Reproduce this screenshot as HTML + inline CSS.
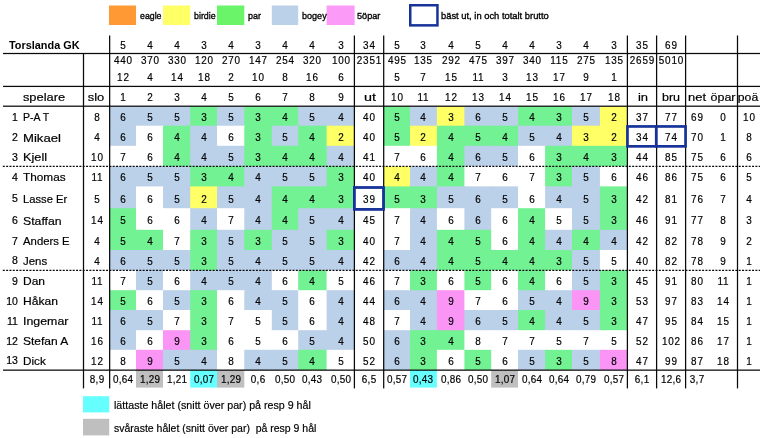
<!DOCTYPE html>
<html lang="sv"><head><meta charset="utf-8"><title>Torslanda GK</title><style>
html,body{margin:0;padding:0;background:#fff}
body{width:764px;height:438px;position:relative;overflow:hidden;font-family:"Liberation Sans",sans-serif;color:#000}
.g{position:absolute;left:0;top:0}
.d,.t,.n,.l,.m{position:absolute;white-space:nowrap;line-height:1;-webkit-text-stroke:0.2px #000}
.d{font-size:10.9px;letter-spacing:.9px;text-indent:.9px;transform:scaleX(.91)}
.f{letter-spacing:.3px;text-indent:.3px}
.t{font-size:11.6px}
.b{font-weight:bold;-webkit-text-stroke:0}
.n{font-size:10.5px}
.l{font-size:9.8px;-webkit-text-stroke:0.35px #000}
.m{font-size:11.6px}
</style></head><body>
<svg class="g" width="764" height="438" viewBox="0 0 764 438">
<rect x="109.40" y="106.40" width="27.60" height="20.30" fill="#BBD0E9"/>
<rect x="136.00" y="106.40" width="28.00" height="20.30" fill="#BBD0E9"/>
<rect x="163.00" y="106.40" width="28.20" height="20.30" fill="#BBD0E9"/>
<rect x="190.20" y="106.40" width="27.80" height="20.30" fill="#72F292"/>
<rect x="217.00" y="106.40" width="28.30" height="20.30" fill="#BBD0E9"/>
<rect x="244.30" y="106.40" width="28.50" height="20.30" fill="#72F292"/>
<rect x="271.80" y="106.40" width="27.40" height="20.30" fill="#72F292"/>
<rect x="298.20" y="106.40" width="29.40" height="20.30" fill="#BBD0E9"/>
<rect x="326.60" y="106.40" width="28.00" height="20.30" fill="#BBD0E9"/>
<rect x="383.00" y="106.40" width="28.00" height="20.30" fill="#72F292"/>
<rect x="410.00" y="106.40" width="27.90" height="20.30" fill="#BBD0E9"/>
<rect x="436.90" y="106.40" width="28.50" height="20.30" fill="#FFFF66"/>
<rect x="464.40" y="106.40" width="27.80" height="20.30" fill="#BBD0E9"/>
<rect x="491.20" y="106.40" width="27.80" height="20.30" fill="#BBD0E9"/>
<rect x="518.00" y="106.40" width="28.10" height="20.30" fill="#72F292"/>
<rect x="545.10" y="106.40" width="27.90" height="20.30" fill="#72F292"/>
<rect x="572.00" y="106.40" width="28.90" height="20.30" fill="#BBD0E9"/>
<rect x="599.90" y="106.40" width="27.70" height="20.30" fill="#FFFF66"/>
<rect x="109.40" y="125.70" width="27.60" height="21.10" fill="#BBD0E9"/>
<rect x="136.00" y="125.70" width="28.00" height="21.10" fill="#fff"/>
<rect x="163.00" y="125.70" width="28.20" height="21.10" fill="#72F292"/>
<rect x="190.20" y="125.70" width="27.80" height="21.10" fill="#BBD0E9"/>
<rect x="217.00" y="125.70" width="28.30" height="21.10" fill="#fff"/>
<rect x="244.30" y="125.70" width="28.50" height="21.10" fill="#72F292"/>
<rect x="271.80" y="125.70" width="27.40" height="21.10" fill="#BBD0E9"/>
<rect x="298.20" y="125.70" width="29.40" height="21.10" fill="#72F292"/>
<rect x="326.60" y="125.70" width="28.00" height="21.10" fill="#FFFF66"/>
<rect x="383.00" y="125.70" width="28.00" height="21.10" fill="#72F292"/>
<rect x="410.00" y="125.70" width="27.90" height="21.10" fill="#FFFF66"/>
<rect x="436.90" y="125.70" width="28.50" height="21.10" fill="#72F292"/>
<rect x="464.40" y="125.70" width="27.80" height="21.10" fill="#72F292"/>
<rect x="491.20" y="125.70" width="27.80" height="21.10" fill="#72F292"/>
<rect x="518.00" y="125.70" width="28.10" height="21.10" fill="#BBD0E9"/>
<rect x="545.10" y="125.70" width="27.90" height="21.10" fill="#BBD0E9"/>
<rect x="572.00" y="125.70" width="28.90" height="21.10" fill="#FFFF66"/>
<rect x="599.90" y="125.70" width="27.70" height="21.10" fill="#FFFF66"/>
<rect x="109.40" y="145.80" width="27.60" height="21.40" fill="#fff"/>
<rect x="136.00" y="145.80" width="28.00" height="21.40" fill="#fff"/>
<rect x="163.00" y="145.80" width="28.20" height="21.40" fill="#72F292"/>
<rect x="190.20" y="145.80" width="27.80" height="21.40" fill="#BBD0E9"/>
<rect x="217.00" y="145.80" width="28.30" height="21.40" fill="#BBD0E9"/>
<rect x="244.30" y="145.80" width="28.50" height="21.40" fill="#72F292"/>
<rect x="271.80" y="145.80" width="27.40" height="21.40" fill="#72F292"/>
<rect x="298.20" y="145.80" width="29.40" height="21.40" fill="#72F292"/>
<rect x="326.60" y="145.80" width="28.00" height="21.40" fill="#BBD0E9"/>
<rect x="383.00" y="145.80" width="28.00" height="21.40" fill="#fff"/>
<rect x="410.00" y="145.80" width="27.90" height="21.40" fill="#fff"/>
<rect x="436.90" y="145.80" width="28.50" height="21.40" fill="#72F292"/>
<rect x="464.40" y="145.80" width="27.80" height="21.40" fill="#BBD0E9"/>
<rect x="491.20" y="145.80" width="27.80" height="21.40" fill="#BBD0E9"/>
<rect x="518.00" y="145.80" width="28.10" height="21.40" fill="#fff"/>
<rect x="545.10" y="145.80" width="27.90" height="21.40" fill="#72F292"/>
<rect x="572.00" y="145.80" width="28.90" height="21.40" fill="#72F292"/>
<rect x="599.90" y="145.80" width="27.70" height="21.40" fill="#72F292"/>
<rect x="109.40" y="166.20" width="27.60" height="21.20" fill="#BBD0E9"/>
<rect x="136.00" y="166.20" width="28.00" height="21.20" fill="#BBD0E9"/>
<rect x="163.00" y="166.20" width="28.20" height="21.20" fill="#BBD0E9"/>
<rect x="190.20" y="166.20" width="27.80" height="21.20" fill="#72F292"/>
<rect x="217.00" y="166.20" width="28.30" height="21.20" fill="#72F292"/>
<rect x="244.30" y="166.20" width="28.50" height="21.20" fill="#BBD0E9"/>
<rect x="271.80" y="166.20" width="27.40" height="21.20" fill="#BBD0E9"/>
<rect x="298.20" y="166.20" width="29.40" height="21.20" fill="#BBD0E9"/>
<rect x="326.60" y="166.20" width="28.00" height="21.20" fill="#72F292"/>
<rect x="383.00" y="166.20" width="28.00" height="21.20" fill="#FFFF66"/>
<rect x="410.00" y="166.20" width="27.90" height="21.20" fill="#BBD0E9"/>
<rect x="436.90" y="166.20" width="28.50" height="21.20" fill="#72F292"/>
<rect x="464.40" y="166.20" width="27.80" height="21.20" fill="#fff"/>
<rect x="491.20" y="166.20" width="27.80" height="21.20" fill="#fff"/>
<rect x="518.00" y="166.20" width="28.10" height="21.20" fill="#fff"/>
<rect x="545.10" y="166.20" width="27.90" height="21.20" fill="#72F292"/>
<rect x="572.00" y="166.20" width="28.90" height="21.20" fill="#BBD0E9"/>
<rect x="599.90" y="166.20" width="27.70" height="21.20" fill="#fff"/>
<rect x="109.40" y="186.40" width="27.60" height="22.80" fill="#BBD0E9"/>
<rect x="136.00" y="186.40" width="28.00" height="22.80" fill="#fff"/>
<rect x="163.00" y="186.40" width="28.20" height="22.80" fill="#BBD0E9"/>
<rect x="190.20" y="186.40" width="27.80" height="22.80" fill="#FFFF66"/>
<rect x="217.00" y="186.40" width="28.30" height="22.80" fill="#BBD0E9"/>
<rect x="244.30" y="186.40" width="28.50" height="22.80" fill="#BBD0E9"/>
<rect x="271.80" y="186.40" width="27.40" height="22.80" fill="#72F292"/>
<rect x="298.20" y="186.40" width="29.40" height="22.80" fill="#72F292"/>
<rect x="326.60" y="186.40" width="28.00" height="22.80" fill="#72F292"/>
<rect x="383.00" y="186.40" width="28.00" height="22.80" fill="#72F292"/>
<rect x="410.00" y="186.40" width="27.90" height="22.80" fill="#72F292"/>
<rect x="436.90" y="186.40" width="28.50" height="22.80" fill="#BBD0E9"/>
<rect x="464.40" y="186.40" width="27.80" height="22.80" fill="#BBD0E9"/>
<rect x="491.20" y="186.40" width="27.80" height="22.80" fill="#BBD0E9"/>
<rect x="518.00" y="186.40" width="28.10" height="22.80" fill="#fff"/>
<rect x="545.10" y="186.40" width="27.90" height="22.80" fill="#BBD0E9"/>
<rect x="572.00" y="186.40" width="28.90" height="22.80" fill="#BBD0E9"/>
<rect x="599.90" y="186.40" width="27.70" height="22.80" fill="#72F292"/>
<rect x="109.40" y="208.20" width="27.60" height="22.60" fill="#72F292"/>
<rect x="136.00" y="208.20" width="28.00" height="22.60" fill="#fff"/>
<rect x="163.00" y="208.20" width="28.20" height="22.60" fill="#fff"/>
<rect x="190.20" y="208.20" width="27.80" height="22.60" fill="#BBD0E9"/>
<rect x="217.00" y="208.20" width="28.30" height="22.60" fill="#fff"/>
<rect x="244.30" y="208.20" width="28.50" height="22.60" fill="#BBD0E9"/>
<rect x="271.80" y="208.20" width="27.40" height="22.60" fill="#72F292"/>
<rect x="298.20" y="208.20" width="29.40" height="22.60" fill="#BBD0E9"/>
<rect x="326.60" y="208.20" width="28.00" height="22.60" fill="#BBD0E9"/>
<rect x="383.00" y="208.20" width="28.00" height="22.60" fill="#fff"/>
<rect x="410.00" y="208.20" width="27.90" height="22.60" fill="#BBD0E9"/>
<rect x="436.90" y="208.20" width="28.50" height="22.60" fill="#fff"/>
<rect x="464.40" y="208.20" width="27.80" height="22.60" fill="#BBD0E9"/>
<rect x="491.20" y="208.20" width="27.80" height="22.60" fill="#fff"/>
<rect x="518.00" y="208.20" width="28.10" height="22.60" fill="#72F292"/>
<rect x="545.10" y="208.20" width="27.90" height="22.60" fill="#fff"/>
<rect x="572.00" y="208.20" width="28.90" height="22.60" fill="#BBD0E9"/>
<rect x="599.90" y="208.20" width="27.70" height="22.60" fill="#72F292"/>
<rect x="109.40" y="229.80" width="27.60" height="21.20" fill="#72F292"/>
<rect x="136.00" y="229.80" width="28.00" height="21.20" fill="#72F292"/>
<rect x="163.00" y="229.80" width="28.20" height="21.20" fill="#fff"/>
<rect x="190.20" y="229.80" width="27.80" height="21.20" fill="#72F292"/>
<rect x="217.00" y="229.80" width="28.30" height="21.20" fill="#BBD0E9"/>
<rect x="244.30" y="229.80" width="28.50" height="21.20" fill="#72F292"/>
<rect x="271.80" y="229.80" width="27.40" height="21.20" fill="#BBD0E9"/>
<rect x="298.20" y="229.80" width="29.40" height="21.20" fill="#BBD0E9"/>
<rect x="326.60" y="229.80" width="28.00" height="21.20" fill="#72F292"/>
<rect x="383.00" y="229.80" width="28.00" height="21.20" fill="#fff"/>
<rect x="410.00" y="229.80" width="27.90" height="21.20" fill="#BBD0E9"/>
<rect x="436.90" y="229.80" width="28.50" height="21.20" fill="#72F292"/>
<rect x="464.40" y="229.80" width="27.80" height="21.20" fill="#72F292"/>
<rect x="491.20" y="229.80" width="27.80" height="21.20" fill="#fff"/>
<rect x="518.00" y="229.80" width="28.10" height="21.20" fill="#72F292"/>
<rect x="545.10" y="229.80" width="27.90" height="21.20" fill="#BBD0E9"/>
<rect x="572.00" y="229.80" width="28.90" height="21.20" fill="#72F292"/>
<rect x="599.90" y="229.80" width="27.70" height="21.20" fill="#BBD0E9"/>
<rect x="109.40" y="250.00" width="27.60" height="21.20" fill="#BBD0E9"/>
<rect x="136.00" y="250.00" width="28.00" height="21.20" fill="#BBD0E9"/>
<rect x="163.00" y="250.00" width="28.20" height="21.20" fill="#BBD0E9"/>
<rect x="190.20" y="250.00" width="27.80" height="21.20" fill="#72F292"/>
<rect x="217.00" y="250.00" width="28.30" height="21.20" fill="#BBD0E9"/>
<rect x="244.30" y="250.00" width="28.50" height="21.20" fill="#BBD0E9"/>
<rect x="271.80" y="250.00" width="27.40" height="21.20" fill="#BBD0E9"/>
<rect x="298.20" y="250.00" width="29.40" height="21.20" fill="#BBD0E9"/>
<rect x="326.60" y="250.00" width="28.00" height="21.20" fill="#BBD0E9"/>
<rect x="383.00" y="250.00" width="28.00" height="21.20" fill="#BBD0E9"/>
<rect x="410.00" y="250.00" width="27.90" height="21.20" fill="#BBD0E9"/>
<rect x="436.90" y="250.00" width="28.50" height="21.20" fill="#72F292"/>
<rect x="464.40" y="250.00" width="27.80" height="21.20" fill="#72F292"/>
<rect x="491.20" y="250.00" width="27.80" height="21.20" fill="#72F292"/>
<rect x="518.00" y="250.00" width="28.10" height="21.20" fill="#72F292"/>
<rect x="545.10" y="250.00" width="27.90" height="21.20" fill="#72F292"/>
<rect x="572.00" y="250.00" width="28.90" height="21.20" fill="#BBD0E9"/>
<rect x="599.90" y="250.00" width="27.70" height="21.20" fill="#fff"/>
<rect x="109.40" y="270.20" width="27.60" height="21.00" fill="#fff"/>
<rect x="136.00" y="270.20" width="28.00" height="21.00" fill="#BBD0E9"/>
<rect x="163.00" y="270.20" width="28.20" height="21.00" fill="#fff"/>
<rect x="190.20" y="270.20" width="27.80" height="21.00" fill="#BBD0E9"/>
<rect x="217.00" y="270.20" width="28.30" height="21.00" fill="#BBD0E9"/>
<rect x="244.30" y="270.20" width="28.50" height="21.00" fill="#BBD0E9"/>
<rect x="271.80" y="270.20" width="27.40" height="21.00" fill="#fff"/>
<rect x="298.20" y="270.20" width="29.40" height="21.00" fill="#72F292"/>
<rect x="326.60" y="270.20" width="28.00" height="21.00" fill="#fff"/>
<rect x="383.00" y="270.20" width="28.00" height="21.00" fill="#fff"/>
<rect x="410.00" y="270.20" width="27.90" height="21.00" fill="#72F292"/>
<rect x="436.90" y="270.20" width="28.50" height="21.00" fill="#fff"/>
<rect x="464.40" y="270.20" width="27.80" height="21.00" fill="#72F292"/>
<rect x="491.20" y="270.20" width="27.80" height="21.00" fill="#fff"/>
<rect x="518.00" y="270.20" width="28.10" height="21.00" fill="#72F292"/>
<rect x="545.10" y="270.20" width="27.90" height="21.00" fill="#fff"/>
<rect x="572.00" y="270.20" width="28.90" height="21.00" fill="#BBD0E9"/>
<rect x="599.90" y="270.20" width="27.70" height="21.00" fill="#72F292"/>
<rect x="109.40" y="290.20" width="27.60" height="20.80" fill="#72F292"/>
<rect x="136.00" y="290.20" width="28.00" height="20.80" fill="#fff"/>
<rect x="163.00" y="290.20" width="28.20" height="20.80" fill="#BBD0E9"/>
<rect x="190.20" y="290.20" width="27.80" height="20.80" fill="#72F292"/>
<rect x="217.00" y="290.20" width="28.30" height="20.80" fill="#fff"/>
<rect x="244.30" y="290.20" width="28.50" height="20.80" fill="#BBD0E9"/>
<rect x="271.80" y="290.20" width="27.40" height="20.80" fill="#BBD0E9"/>
<rect x="298.20" y="290.20" width="29.40" height="20.80" fill="#fff"/>
<rect x="326.60" y="290.20" width="28.00" height="20.80" fill="#BBD0E9"/>
<rect x="383.00" y="290.20" width="28.00" height="20.80" fill="#BBD0E9"/>
<rect x="410.00" y="290.20" width="27.90" height="20.80" fill="#BBD0E9"/>
<rect x="436.90" y="290.20" width="28.50" height="20.80" fill="#FB95F5"/>
<rect x="464.40" y="290.20" width="27.80" height="20.80" fill="#fff"/>
<rect x="491.20" y="290.20" width="27.80" height="20.80" fill="#fff"/>
<rect x="518.00" y="290.20" width="28.10" height="20.80" fill="#BBD0E9"/>
<rect x="545.10" y="290.20" width="27.90" height="20.80" fill="#BBD0E9"/>
<rect x="572.00" y="290.20" width="28.90" height="20.80" fill="#FB95F5"/>
<rect x="599.90" y="290.20" width="27.70" height="20.80" fill="#72F292"/>
<rect x="109.40" y="310.00" width="27.60" height="21.20" fill="#BBD0E9"/>
<rect x="136.00" y="310.00" width="28.00" height="21.20" fill="#BBD0E9"/>
<rect x="163.00" y="310.00" width="28.20" height="21.20" fill="#fff"/>
<rect x="190.20" y="310.00" width="27.80" height="21.20" fill="#72F292"/>
<rect x="217.00" y="310.00" width="28.30" height="21.20" fill="#fff"/>
<rect x="244.30" y="310.00" width="28.50" height="21.20" fill="#fff"/>
<rect x="271.80" y="310.00" width="27.40" height="21.20" fill="#BBD0E9"/>
<rect x="298.20" y="310.00" width="29.40" height="21.20" fill="#fff"/>
<rect x="326.60" y="310.00" width="28.00" height="21.20" fill="#BBD0E9"/>
<rect x="383.00" y="310.00" width="28.00" height="21.20" fill="#fff"/>
<rect x="410.00" y="310.00" width="27.90" height="21.20" fill="#BBD0E9"/>
<rect x="436.90" y="310.00" width="28.50" height="21.20" fill="#FB95F5"/>
<rect x="464.40" y="310.00" width="27.80" height="21.20" fill="#BBD0E9"/>
<rect x="491.20" y="310.00" width="27.80" height="21.20" fill="#BBD0E9"/>
<rect x="518.00" y="310.00" width="28.10" height="21.20" fill="#72F292"/>
<rect x="545.10" y="310.00" width="27.90" height="21.20" fill="#BBD0E9"/>
<rect x="572.00" y="310.00" width="28.90" height="21.20" fill="#BBD0E9"/>
<rect x="599.90" y="310.00" width="27.70" height="21.20" fill="#72F292"/>
<rect x="109.40" y="330.20" width="27.60" height="20.60" fill="#BBD0E9"/>
<rect x="136.00" y="330.20" width="28.00" height="20.60" fill="#fff"/>
<rect x="163.00" y="330.20" width="28.20" height="20.60" fill="#FB95F5"/>
<rect x="190.20" y="330.20" width="27.80" height="20.60" fill="#72F292"/>
<rect x="217.00" y="330.20" width="28.30" height="20.60" fill="#fff"/>
<rect x="244.30" y="330.20" width="28.50" height="20.60" fill="#fff"/>
<rect x="271.80" y="330.20" width="27.40" height="20.60" fill="#fff"/>
<rect x="298.20" y="330.20" width="29.40" height="20.60" fill="#BBD0E9"/>
<rect x="326.60" y="330.20" width="28.00" height="20.60" fill="#BBD0E9"/>
<rect x="383.00" y="330.20" width="28.00" height="20.60" fill="#BBD0E9"/>
<rect x="410.00" y="330.20" width="27.90" height="20.60" fill="#72F292"/>
<rect x="436.90" y="330.20" width="28.50" height="20.60" fill="#72F292"/>
<rect x="464.40" y="330.20" width="27.80" height="20.60" fill="#fff"/>
<rect x="491.20" y="330.20" width="27.80" height="20.60" fill="#fff"/>
<rect x="518.00" y="330.20" width="28.10" height="20.60" fill="#fff"/>
<rect x="545.10" y="330.20" width="27.90" height="20.60" fill="#fff"/>
<rect x="572.00" y="330.20" width="28.90" height="20.60" fill="#fff"/>
<rect x="599.90" y="330.20" width="27.70" height="20.60" fill="#fff"/>
<rect x="109.40" y="349.80" width="27.60" height="20.20" fill="#fff"/>
<rect x="136.00" y="349.80" width="28.00" height="20.20" fill="#FB95F5"/>
<rect x="163.00" y="349.80" width="28.20" height="20.20" fill="#BBD0E9"/>
<rect x="190.20" y="349.80" width="27.80" height="20.20" fill="#BBD0E9"/>
<rect x="217.00" y="349.80" width="28.30" height="20.20" fill="#fff"/>
<rect x="244.30" y="349.80" width="28.50" height="20.20" fill="#BBD0E9"/>
<rect x="271.80" y="349.80" width="27.40" height="20.20" fill="#BBD0E9"/>
<rect x="298.20" y="349.80" width="29.40" height="20.20" fill="#72F292"/>
<rect x="326.60" y="349.80" width="28.00" height="20.20" fill="#fff"/>
<rect x="383.00" y="349.80" width="28.00" height="20.20" fill="#BBD0E9"/>
<rect x="410.00" y="349.80" width="27.90" height="20.20" fill="#72F292"/>
<rect x="436.90" y="349.80" width="28.50" height="20.20" fill="#fff"/>
<rect x="464.40" y="349.80" width="27.80" height="20.20" fill="#72F292"/>
<rect x="491.20" y="349.80" width="27.80" height="20.20" fill="#fff"/>
<rect x="518.00" y="349.80" width="28.10" height="20.20" fill="#BBD0E9"/>
<rect x="545.10" y="349.80" width="27.90" height="20.20" fill="#72F292"/>
<rect x="572.00" y="349.80" width="28.90" height="20.20" fill="#BBD0E9"/>
<rect x="599.90" y="349.80" width="27.70" height="20.20" fill="#FB95F5"/>
<rect x="136.00" y="370.00" width="27.00" height="17.60" fill="#BFBFBF"/>
<rect x="190.20" y="370.00" width="26.80" height="17.60" fill="#66FFFF"/>
<rect x="217.00" y="370.00" width="27.30" height="17.60" fill="#BFBFBF"/>
<rect x="410.00" y="370.00" width="26.90" height="17.60" fill="#66FFFF"/>
<rect x="491.20" y="370.00" width="26.80" height="17.60" fill="#BFBFBF"/>
<rect x="109.00" y="5.50" width="27.00" height="19.50" fill="#FF9933"/>
<rect x="163.00" y="5.50" width="27.20" height="19.50" fill="#FFFF66"/>
<rect x="217.00" y="5.50" width="27.30" height="19.50" fill="#6AF46A"/>
<rect x="271.80" y="5.50" width="26.40" height="19.50" fill="#BBD0E9"/>
<rect x="326.60" y="5.50" width="28.00" height="19.50" fill="#FC9AF8"/>
<rect x="83.00" y="396.20" width="26.20" height="16.20" fill="#66FFFF"/>
<rect x="83.00" y="418.80" width="26.20" height="16.60" fill="#BFBFBF"/>
<rect x="3.00" y="52.88" width="757.00" height="1.25" fill="#0a0a0a"/>
<rect x="3.00" y="85.78" width="757.00" height="1.25" fill="#0a0a0a"/>
<rect x="3.00" y="105.58" width="757.00" height="1.25" fill="#0a0a0a"/>
<rect x="3.00" y="369.52" width="757.00" height="1.25" fill="#0a0a0a"/>
<line x1="2.80" y1="166.30" x2="760.00" y2="166.30" stroke="#0a0a0a" stroke-width="1.2" stroke-dasharray="2 1.33"/>
<line x1="2.80" y1="270.30" x2="760.00" y2="270.30" stroke="#0a0a0a" stroke-width="1.2" stroke-dasharray="2 1.33"/>
<rect x="82.88" y="53.50" width="1.25" height="334.90" fill="#0a0a0a"/>
<rect x="109.03" y="35.50" width="1.25" height="352.90" fill="#0a0a0a"/>
<rect x="353.77" y="35.50" width="1.25" height="352.90" fill="#0a0a0a"/>
<rect x="383.07" y="35.50" width="1.25" height="352.90" fill="#0a0a0a"/>
<rect x="626.77" y="35.50" width="1.25" height="352.90" fill="#0a0a0a"/>
<rect x="655.98" y="35.50" width="1.25" height="352.90" fill="#0a0a0a"/>
<rect x="684.98" y="35.50" width="1.25" height="352.90" fill="#0a0a0a"/>
<rect x="736.88" y="35.50" width="1.25" height="352.90" fill="#0a0a0a"/>
<rect x="409.00" y="4.00" width="29.70" height="22.60" fill="#17339A"/>
<rect x="411.50" y="6.50" width="24.70" height="17.60" fill="#fff"/>
<rect x="353.00" y="186.10" width="31.90" height="24.70" fill="#17339A"/>
<rect x="355.80" y="188.90" width="26.30" height="19.10" fill="#fff"/>
<rect x="626.10" y="125.10" width="60.80" height="22.60" fill="#17339A"/>
<rect x="628.80" y="127.80" width="55.40" height="17.20" fill="#fff"/>
<rect x="654.90" y="125.10" width="2.80" height="22.60" fill="#17339A"/>
</svg>
<div class="d" style="left:83.00px;width:80px;text-align:center;top:40.17px;">5</div>
<div class="d" style="left:83.00px;width:80px;text-align:center;top:55.17px;">440</div>
<div class="d" style="left:83.00px;width:80px;text-align:center;top:71.77px;">12</div>
<div class="d" style="left:83.00px;width:80px;text-align:center;top:91.97px;">1</div>
<div class="d" style="left:109.50px;width:80px;text-align:center;top:40.17px;">4</div>
<div class="d" style="left:109.50px;width:80px;text-align:center;top:55.17px;">370</div>
<div class="d" style="left:109.50px;width:80px;text-align:center;top:71.77px;">4</div>
<div class="d" style="left:109.50px;width:80px;text-align:center;top:91.97px;">2</div>
<div class="d" style="left:136.60px;width:80px;text-align:center;top:40.17px;">4</div>
<div class="d" style="left:136.60px;width:80px;text-align:center;top:55.17px;">330</div>
<div class="d" style="left:136.60px;width:80px;text-align:center;top:71.77px;">14</div>
<div class="d" style="left:136.60px;width:80px;text-align:center;top:91.97px;">3</div>
<div class="d" style="left:163.60px;width:80px;text-align:center;top:40.17px;">3</div>
<div class="d" style="left:163.60px;width:80px;text-align:center;top:55.17px;">120</div>
<div class="d" style="left:163.60px;width:80px;text-align:center;top:71.77px;">18</div>
<div class="d" style="left:163.60px;width:80px;text-align:center;top:91.97px;">4</div>
<div class="d" style="left:190.65px;width:80px;text-align:center;top:40.17px;">4</div>
<div class="d" style="left:190.65px;width:80px;text-align:center;top:55.17px;">270</div>
<div class="d" style="left:190.65px;width:80px;text-align:center;top:71.77px;">2</div>
<div class="d" style="left:190.65px;width:80px;text-align:center;top:91.97px;">5</div>
<div class="d" style="left:218.05px;width:80px;text-align:center;top:40.17px;">3</div>
<div class="d" style="left:218.05px;width:80px;text-align:center;top:55.17px;">147</div>
<div class="d" style="left:218.05px;width:80px;text-align:center;top:71.77px;">10</div>
<div class="d" style="left:218.05px;width:80px;text-align:center;top:91.97px;">6</div>
<div class="d" style="left:245.00px;width:80px;text-align:center;top:40.17px;">4</div>
<div class="d" style="left:245.00px;width:80px;text-align:center;top:55.17px;">254</div>
<div class="d" style="left:245.00px;width:80px;text-align:center;top:71.77px;">8</div>
<div class="d" style="left:245.00px;width:80px;text-align:center;top:91.97px;">7</div>
<div class="d" style="left:272.40px;width:80px;text-align:center;top:40.17px;">4</div>
<div class="d" style="left:272.40px;width:80px;text-align:center;top:55.17px;">320</div>
<div class="d" style="left:272.40px;width:80px;text-align:center;top:71.77px;">16</div>
<div class="d" style="left:272.40px;width:80px;text-align:center;top:91.97px;">8</div>
<div class="d" style="left:300.60px;width:80px;text-align:center;top:40.17px;">3</div>
<div class="d" style="left:300.60px;width:80px;text-align:center;top:55.17px;">100</div>
<div class="d" style="left:300.60px;width:80px;text-align:center;top:71.77px;">6</div>
<div class="d" style="left:300.60px;width:80px;text-align:center;top:91.97px;">9</div>
<div class="d" style="left:356.80px;width:80px;text-align:center;top:40.17px;">5</div>
<div class="d" style="left:356.80px;width:80px;text-align:center;top:55.17px;">495</div>
<div class="d" style="left:356.80px;width:80px;text-align:center;top:71.77px;">5</div>
<div class="d" style="left:356.80px;width:80px;text-align:center;top:91.97px;">10</div>
<div class="d" style="left:383.45px;width:80px;text-align:center;top:40.17px;">3</div>
<div class="d" style="left:383.45px;width:80px;text-align:center;top:55.17px;">135</div>
<div class="d" style="left:383.45px;width:80px;text-align:center;top:71.77px;">7</div>
<div class="d" style="left:383.45px;width:80px;text-align:center;top:91.97px;">11</div>
<div class="d" style="left:410.65px;width:80px;text-align:center;top:40.17px;">4</div>
<div class="d" style="left:410.65px;width:80px;text-align:center;top:55.17px;">292</div>
<div class="d" style="left:410.65px;width:80px;text-align:center;top:71.77px;">15</div>
<div class="d" style="left:410.65px;width:80px;text-align:center;top:91.97px;">12</div>
<div class="d" style="left:437.80px;width:80px;text-align:center;top:40.17px;">5</div>
<div class="d" style="left:437.80px;width:80px;text-align:center;top:55.17px;">475</div>
<div class="d" style="left:437.80px;width:80px;text-align:center;top:71.77px;">11</div>
<div class="d" style="left:437.80px;width:80px;text-align:center;top:91.97px;">13</div>
<div class="d" style="left:464.60px;width:80px;text-align:center;top:40.17px;">4</div>
<div class="d" style="left:464.60px;width:80px;text-align:center;top:55.17px;">397</div>
<div class="d" style="left:464.60px;width:80px;text-align:center;top:71.77px;">3</div>
<div class="d" style="left:464.60px;width:80px;text-align:center;top:91.97px;">14</div>
<div class="d" style="left:491.55px;width:80px;text-align:center;top:40.17px;">4</div>
<div class="d" style="left:491.55px;width:80px;text-align:center;top:55.17px;">340</div>
<div class="d" style="left:491.55px;width:80px;text-align:center;top:71.77px;">13</div>
<div class="d" style="left:491.55px;width:80px;text-align:center;top:91.97px;">15</div>
<div class="d" style="left:518.55px;width:80px;text-align:center;top:40.17px;">3</div>
<div class="d" style="left:518.55px;width:80px;text-align:center;top:55.17px;">115</div>
<div class="d" style="left:518.55px;width:80px;text-align:center;top:71.77px;">17</div>
<div class="d" style="left:518.55px;width:80px;text-align:center;top:91.97px;">16</div>
<div class="d" style="left:545.95px;width:80px;text-align:center;top:40.17px;">4</div>
<div class="d" style="left:545.95px;width:80px;text-align:center;top:55.17px;">275</div>
<div class="d" style="left:545.95px;width:80px;text-align:center;top:71.77px;">9</div>
<div class="d" style="left:545.95px;width:80px;text-align:center;top:91.97px;">17</div>
<div class="d" style="left:573.75px;width:80px;text-align:center;top:40.17px;">3</div>
<div class="d" style="left:573.75px;width:80px;text-align:center;top:55.17px;">135</div>
<div class="d" style="left:573.75px;width:80px;text-align:center;top:71.77px;">1</div>
<div class="d" style="left:573.75px;width:80px;text-align:center;top:91.97px;">18</div>
<div class="t b" style="left:9.00px;top:39.48px;transform:scaleX(0.939);transform-origin:left top;">Torslanda GK</div>
<div class="d" style="left:329.05px;width:80px;text-align:center;top:40.17px;">34</div>
<div class="d" style="left:329.05px;width:80px;text-align:center;top:55.17px;">2351</div>
<div class="t" style="left:329.70px;width:80px;text-align:center;top:91.38px;transform:scaleX(1.240);transform-origin:center top;">ut</div>
<div class="d" style="left:602.00px;width:80px;text-align:center;top:40.17px;">35</div>
<div class="d" style="left:602.00px;width:80px;text-align:center;top:55.17px;">2659</div>
<div class="t" style="left:602.80px;width:80px;text-align:center;top:91.38px;transform:scaleX(1.119);transform-origin:center top;">in</div>
<div class="d" style="left:631.10px;width:80px;text-align:center;top:40.17px;">69</div>
<div class="d" style="left:631.10px;width:80px;text-align:center;top:55.17px;">5010</div>
<div class="t" style="left:631.20px;width:80px;text-align:center;top:91.38px;transform:scaleX(1.080);transform-origin:center top;">bru</div>
<div class="t" style="left:657.00px;width:80px;text-align:center;top:91.38px;transform:scaleX(1.122);transform-origin:center top;">net</div>
<div class="t" style="left:683.30px;width:80px;text-align:center;top:91.38px;transform:scaleX(1.077);transform-origin:center top;">öpar</div>
<div class="t" style="left:708.40px;width:80px;text-align:center;top:91.38px;transform:scaleX(1.054);transform-origin:center top;">poä</div>
<div class="t" style="left:4.00px;width:80px;text-align:center;top:91.38px;transform:scaleX(1.109);transform-origin:center top;">spelare</div>
<div class="t" style="left:56.40px;width:80px;text-align:center;top:91.38px;transform:scaleX(1.113);transform-origin:center top;">slo</div>
<div class="n" style="left:-62.20px;width:80px;text-align:right;top:111.61px;">1</div>
<div class="t" style="left:23.00px;top:111.38px;transform:scaleX(0.906);transform-origin:left top;">P-A T</div>
<div class="d" style="left:56.58px;width:80px;text-align:center;top:111.87px;">8</div>
<div class="d" style="left:83.00px;width:80px;text-align:center;top:111.87px;">6</div>
<div class="d" style="left:109.50px;width:80px;text-align:center;top:111.87px;">5</div>
<div class="d" style="left:136.60px;width:80px;text-align:center;top:111.87px;">5</div>
<div class="d" style="left:163.60px;width:80px;text-align:center;top:111.87px;">3</div>
<div class="d" style="left:190.65px;width:80px;text-align:center;top:111.87px;">5</div>
<div class="d" style="left:218.05px;width:80px;text-align:center;top:111.87px;">3</div>
<div class="d" style="left:245.00px;width:80px;text-align:center;top:111.87px;">4</div>
<div class="d" style="left:272.40px;width:80px;text-align:center;top:111.87px;">5</div>
<div class="d" style="left:300.60px;width:80px;text-align:center;top:111.87px;">4</div>
<div class="d" style="left:356.80px;width:80px;text-align:center;top:111.87px;">5</div>
<div class="d" style="left:383.45px;width:80px;text-align:center;top:111.87px;">4</div>
<div class="d" style="left:410.65px;width:80px;text-align:center;top:111.87px;">3</div>
<div class="d" style="left:437.80px;width:80px;text-align:center;top:111.87px;">6</div>
<div class="d" style="left:464.60px;width:80px;text-align:center;top:111.87px;">5</div>
<div class="d" style="left:491.55px;width:80px;text-align:center;top:111.87px;">4</div>
<div class="d" style="left:518.55px;width:80px;text-align:center;top:111.87px;">3</div>
<div class="d" style="left:545.95px;width:80px;text-align:center;top:111.87px;">5</div>
<div class="d" style="left:573.75px;width:80px;text-align:center;top:111.87px;">2</div>
<div class="d" style="left:329.05px;width:80px;text-align:center;top:111.87px;">40</div>
<div class="d" style="left:602.00px;width:80px;text-align:center;top:111.87px;">37</div>
<div class="d" style="left:631.10px;width:80px;text-align:center;top:111.87px;">77</div>
<div class="d" style="left:657.00px;width:80px;text-align:center;top:111.87px;">69</div>
<div class="d" style="left:683.30px;width:80px;text-align:center;top:111.87px;">0</div>
<div class="d" style="left:708.60px;width:80px;text-align:center;top:111.87px;">10</div>
<div class="n" style="left:-62.20px;width:80px;text-align:right;top:131.91px;">2</div>
<div class="t" style="left:23.00px;top:131.68px;transform:scaleX(1.131);transform-origin:left top;">Mikael</div>
<div class="d" style="left:56.58px;width:80px;text-align:center;top:132.17px;">4</div>
<div class="d" style="left:83.00px;width:80px;text-align:center;top:132.17px;">6</div>
<div class="d" style="left:109.50px;width:80px;text-align:center;top:132.17px;">6</div>
<div class="d" style="left:136.60px;width:80px;text-align:center;top:132.17px;">4</div>
<div class="d" style="left:163.60px;width:80px;text-align:center;top:132.17px;">4</div>
<div class="d" style="left:190.65px;width:80px;text-align:center;top:132.17px;">6</div>
<div class="d" style="left:218.05px;width:80px;text-align:center;top:132.17px;">3</div>
<div class="d" style="left:245.00px;width:80px;text-align:center;top:132.17px;">5</div>
<div class="d" style="left:272.40px;width:80px;text-align:center;top:132.17px;">4</div>
<div class="d" style="left:300.60px;width:80px;text-align:center;top:132.17px;">2</div>
<div class="d" style="left:356.80px;width:80px;text-align:center;top:132.17px;">5</div>
<div class="d" style="left:383.45px;width:80px;text-align:center;top:132.17px;">2</div>
<div class="d" style="left:410.65px;width:80px;text-align:center;top:132.17px;">4</div>
<div class="d" style="left:437.80px;width:80px;text-align:center;top:132.17px;">5</div>
<div class="d" style="left:464.60px;width:80px;text-align:center;top:132.17px;">4</div>
<div class="d" style="left:491.55px;width:80px;text-align:center;top:132.17px;">5</div>
<div class="d" style="left:518.55px;width:80px;text-align:center;top:132.17px;">4</div>
<div class="d" style="left:545.95px;width:80px;text-align:center;top:132.17px;">3</div>
<div class="d" style="left:573.75px;width:80px;text-align:center;top:132.17px;">2</div>
<div class="d" style="left:329.05px;width:80px;text-align:center;top:132.17px;">40</div>
<div class="d" style="left:602.00px;width:80px;text-align:center;top:132.17px;">34</div>
<div class="d" style="left:631.10px;width:80px;text-align:center;top:132.17px;">74</div>
<div class="d" style="left:657.00px;width:80px;text-align:center;top:132.17px;">70</div>
<div class="d" style="left:683.30px;width:80px;text-align:center;top:132.17px;">1</div>
<div class="d" style="left:708.60px;width:80px;text-align:center;top:132.17px;">8</div>
<div class="n" style="left:-62.20px;width:80px;text-align:right;top:151.51px;">3</div>
<div class="t" style="left:23.00px;top:151.28px;transform:scaleX(1.099);transform-origin:left top;">Kjell</div>
<div class="d" style="left:56.58px;width:80px;text-align:center;top:151.77px;">10</div>
<div class="d" style="left:83.00px;width:80px;text-align:center;top:151.77px;">7</div>
<div class="d" style="left:109.50px;width:80px;text-align:center;top:151.77px;">6</div>
<div class="d" style="left:136.60px;width:80px;text-align:center;top:151.77px;">4</div>
<div class="d" style="left:163.60px;width:80px;text-align:center;top:151.77px;">4</div>
<div class="d" style="left:190.65px;width:80px;text-align:center;top:151.77px;">5</div>
<div class="d" style="left:218.05px;width:80px;text-align:center;top:151.77px;">3</div>
<div class="d" style="left:245.00px;width:80px;text-align:center;top:151.77px;">4</div>
<div class="d" style="left:272.40px;width:80px;text-align:center;top:151.77px;">4</div>
<div class="d" style="left:300.60px;width:80px;text-align:center;top:151.77px;">4</div>
<div class="d" style="left:356.80px;width:80px;text-align:center;top:151.77px;">7</div>
<div class="d" style="left:383.45px;width:80px;text-align:center;top:151.77px;">6</div>
<div class="d" style="left:410.65px;width:80px;text-align:center;top:151.77px;">4</div>
<div class="d" style="left:437.80px;width:80px;text-align:center;top:151.77px;">6</div>
<div class="d" style="left:464.60px;width:80px;text-align:center;top:151.77px;">5</div>
<div class="d" style="left:491.55px;width:80px;text-align:center;top:151.77px;">6</div>
<div class="d" style="left:518.55px;width:80px;text-align:center;top:151.77px;">3</div>
<div class="d" style="left:545.95px;width:80px;text-align:center;top:151.77px;">4</div>
<div class="d" style="left:573.75px;width:80px;text-align:center;top:151.77px;">3</div>
<div class="d" style="left:329.05px;width:80px;text-align:center;top:151.77px;">41</div>
<div class="d" style="left:602.00px;width:80px;text-align:center;top:151.77px;">44</div>
<div class="d" style="left:631.10px;width:80px;text-align:center;top:151.77px;">85</div>
<div class="d" style="left:657.00px;width:80px;text-align:center;top:151.77px;">75</div>
<div class="d" style="left:683.30px;width:80px;text-align:center;top:151.77px;">6</div>
<div class="d" style="left:708.60px;width:80px;text-align:center;top:151.77px;">6</div>
<div class="n" style="left:-62.20px;width:80px;text-align:right;top:171.51px;">4</div>
<div class="t" style="left:23.00px;top:171.28px;transform:scaleX(1.017);transform-origin:left top;">Thomas</div>
<div class="d" style="left:56.58px;width:80px;text-align:center;top:171.77px;">11</div>
<div class="d" style="left:83.00px;width:80px;text-align:center;top:171.77px;">6</div>
<div class="d" style="left:109.50px;width:80px;text-align:center;top:171.77px;">5</div>
<div class="d" style="left:136.60px;width:80px;text-align:center;top:171.77px;">5</div>
<div class="d" style="left:163.60px;width:80px;text-align:center;top:171.77px;">3</div>
<div class="d" style="left:190.65px;width:80px;text-align:center;top:171.77px;">4</div>
<div class="d" style="left:218.05px;width:80px;text-align:center;top:171.77px;">4</div>
<div class="d" style="left:245.00px;width:80px;text-align:center;top:171.77px;">5</div>
<div class="d" style="left:272.40px;width:80px;text-align:center;top:171.77px;">5</div>
<div class="d" style="left:300.60px;width:80px;text-align:center;top:171.77px;">3</div>
<div class="d" style="left:356.80px;width:80px;text-align:center;top:171.77px;">4</div>
<div class="d" style="left:383.45px;width:80px;text-align:center;top:171.77px;">4</div>
<div class="d" style="left:410.65px;width:80px;text-align:center;top:171.77px;">4</div>
<div class="d" style="left:437.80px;width:80px;text-align:center;top:171.77px;">7</div>
<div class="d" style="left:464.60px;width:80px;text-align:center;top:171.77px;">6</div>
<div class="d" style="left:491.55px;width:80px;text-align:center;top:171.77px;">7</div>
<div class="d" style="left:518.55px;width:80px;text-align:center;top:171.77px;">3</div>
<div class="d" style="left:545.95px;width:80px;text-align:center;top:171.77px;">5</div>
<div class="d" style="left:573.75px;width:80px;text-align:center;top:171.77px;">6</div>
<div class="d" style="left:329.05px;width:80px;text-align:center;top:171.77px;">40</div>
<div class="d" style="left:602.00px;width:80px;text-align:center;top:171.77px;">46</div>
<div class="d" style="left:631.10px;width:80px;text-align:center;top:171.77px;">86</div>
<div class="d" style="left:657.00px;width:80px;text-align:center;top:171.77px;">75</div>
<div class="d" style="left:683.30px;width:80px;text-align:center;top:171.77px;">6</div>
<div class="d" style="left:708.60px;width:80px;text-align:center;top:171.77px;">5</div>
<div class="n" style="left:-62.20px;width:80px;text-align:right;top:193.41px;">5</div>
<div class="t" style="left:23.00px;top:193.18px;transform:scaleX(0.966);transform-origin:left top;">Lasse Er</div>
<div class="d" style="left:56.58px;width:80px;text-align:center;top:193.67px;">5</div>
<div class="d" style="left:83.00px;width:80px;text-align:center;top:193.67px;">6</div>
<div class="d" style="left:109.50px;width:80px;text-align:center;top:193.67px;">6</div>
<div class="d" style="left:136.60px;width:80px;text-align:center;top:193.67px;">5</div>
<div class="d" style="left:163.60px;width:80px;text-align:center;top:193.67px;">2</div>
<div class="d" style="left:190.65px;width:80px;text-align:center;top:193.67px;">5</div>
<div class="d" style="left:218.05px;width:80px;text-align:center;top:193.67px;">4</div>
<div class="d" style="left:245.00px;width:80px;text-align:center;top:193.67px;">4</div>
<div class="d" style="left:272.40px;width:80px;text-align:center;top:193.67px;">4</div>
<div class="d" style="left:300.60px;width:80px;text-align:center;top:193.67px;">3</div>
<div class="d" style="left:356.80px;width:80px;text-align:center;top:193.67px;">5</div>
<div class="d" style="left:383.45px;width:80px;text-align:center;top:193.67px;">3</div>
<div class="d" style="left:410.65px;width:80px;text-align:center;top:193.67px;">5</div>
<div class="d" style="left:437.80px;width:80px;text-align:center;top:193.67px;">6</div>
<div class="d" style="left:464.60px;width:80px;text-align:center;top:193.67px;">5</div>
<div class="d" style="left:491.55px;width:80px;text-align:center;top:193.67px;">6</div>
<div class="d" style="left:518.55px;width:80px;text-align:center;top:193.67px;">4</div>
<div class="d" style="left:545.95px;width:80px;text-align:center;top:193.67px;">5</div>
<div class="d" style="left:573.75px;width:80px;text-align:center;top:193.67px;">3</div>
<div class="d" style="left:329.05px;width:80px;text-align:center;top:193.67px;">39</div>
<div class="d" style="left:602.00px;width:80px;text-align:center;top:193.67px;">42</div>
<div class="d" style="left:631.10px;width:80px;text-align:center;top:193.67px;">81</div>
<div class="d" style="left:657.00px;width:80px;text-align:center;top:193.67px;">76</div>
<div class="d" style="left:683.30px;width:80px;text-align:center;top:193.67px;">7</div>
<div class="d" style="left:708.60px;width:80px;text-align:center;top:193.67px;">4</div>
<div class="n" style="left:-62.20px;width:80px;text-align:right;top:214.81px;">6</div>
<div class="t" style="left:23.00px;top:214.58px;transform:scaleX(1.056);transform-origin:left top;">Staffan</div>
<div class="d" style="left:56.58px;width:80px;text-align:center;top:215.07px;">14</div>
<div class="d" style="left:83.00px;width:80px;text-align:center;top:215.07px;">5</div>
<div class="d" style="left:109.50px;width:80px;text-align:center;top:215.07px;">6</div>
<div class="d" style="left:136.60px;width:80px;text-align:center;top:215.07px;">6</div>
<div class="d" style="left:163.60px;width:80px;text-align:center;top:215.07px;">4</div>
<div class="d" style="left:190.65px;width:80px;text-align:center;top:215.07px;">7</div>
<div class="d" style="left:218.05px;width:80px;text-align:center;top:215.07px;">4</div>
<div class="d" style="left:245.00px;width:80px;text-align:center;top:215.07px;">4</div>
<div class="d" style="left:272.40px;width:80px;text-align:center;top:215.07px;">5</div>
<div class="d" style="left:300.60px;width:80px;text-align:center;top:215.07px;">4</div>
<div class="d" style="left:356.80px;width:80px;text-align:center;top:215.07px;">7</div>
<div class="d" style="left:383.45px;width:80px;text-align:center;top:215.07px;">4</div>
<div class="d" style="left:410.65px;width:80px;text-align:center;top:215.07px;">6</div>
<div class="d" style="left:437.80px;width:80px;text-align:center;top:215.07px;">6</div>
<div class="d" style="left:464.60px;width:80px;text-align:center;top:215.07px;">6</div>
<div class="d" style="left:491.55px;width:80px;text-align:center;top:215.07px;">4</div>
<div class="d" style="left:518.55px;width:80px;text-align:center;top:215.07px;">5</div>
<div class="d" style="left:545.95px;width:80px;text-align:center;top:215.07px;">5</div>
<div class="d" style="left:573.75px;width:80px;text-align:center;top:215.07px;">3</div>
<div class="d" style="left:329.05px;width:80px;text-align:center;top:215.07px;">45</div>
<div class="d" style="left:602.00px;width:80px;text-align:center;top:215.07px;">46</div>
<div class="d" style="left:631.10px;width:80px;text-align:center;top:215.07px;">91</div>
<div class="d" style="left:657.00px;width:80px;text-align:center;top:215.07px;">77</div>
<div class="d" style="left:683.30px;width:80px;text-align:center;top:215.07px;">8</div>
<div class="d" style="left:708.60px;width:80px;text-align:center;top:215.07px;">3</div>
<div class="n" style="left:-62.20px;width:80px;text-align:right;top:235.61px;">7</div>
<div class="t" style="left:23.00px;top:235.38px;transform:scaleX(0.979);transform-origin:left top;">Anders E</div>
<div class="d" style="left:56.58px;width:80px;text-align:center;top:235.87px;">4</div>
<div class="d" style="left:83.00px;width:80px;text-align:center;top:235.87px;">5</div>
<div class="d" style="left:109.50px;width:80px;text-align:center;top:235.87px;">4</div>
<div class="d" style="left:136.60px;width:80px;text-align:center;top:235.87px;">7</div>
<div class="d" style="left:163.60px;width:80px;text-align:center;top:235.87px;">3</div>
<div class="d" style="left:190.65px;width:80px;text-align:center;top:235.87px;">5</div>
<div class="d" style="left:218.05px;width:80px;text-align:center;top:235.87px;">3</div>
<div class="d" style="left:245.00px;width:80px;text-align:center;top:235.87px;">5</div>
<div class="d" style="left:272.40px;width:80px;text-align:center;top:235.87px;">5</div>
<div class="d" style="left:300.60px;width:80px;text-align:center;top:235.87px;">3</div>
<div class="d" style="left:356.80px;width:80px;text-align:center;top:235.87px;">7</div>
<div class="d" style="left:383.45px;width:80px;text-align:center;top:235.87px;">4</div>
<div class="d" style="left:410.65px;width:80px;text-align:center;top:235.87px;">4</div>
<div class="d" style="left:437.80px;width:80px;text-align:center;top:235.87px;">5</div>
<div class="d" style="left:464.60px;width:80px;text-align:center;top:235.87px;">6</div>
<div class="d" style="left:491.55px;width:80px;text-align:center;top:235.87px;">4</div>
<div class="d" style="left:518.55px;width:80px;text-align:center;top:235.87px;">4</div>
<div class="d" style="left:545.95px;width:80px;text-align:center;top:235.87px;">4</div>
<div class="d" style="left:573.75px;width:80px;text-align:center;top:235.87px;">4</div>
<div class="d" style="left:329.05px;width:80px;text-align:center;top:235.87px;">40</div>
<div class="d" style="left:602.00px;width:80px;text-align:center;top:235.87px;">42</div>
<div class="d" style="left:631.10px;width:80px;text-align:center;top:235.87px;">82</div>
<div class="d" style="left:657.00px;width:80px;text-align:center;top:235.87px;">78</div>
<div class="d" style="left:683.30px;width:80px;text-align:center;top:235.87px;">9</div>
<div class="d" style="left:708.60px;width:80px;text-align:center;top:235.87px;">2</div>
<div class="n" style="left:-62.20px;width:80px;text-align:right;top:255.41px;">8</div>
<div class="t" style="left:23.00px;top:255.18px;transform:scaleX(0.984);transform-origin:left top;">Jens</div>
<div class="d" style="left:56.58px;width:80px;text-align:center;top:255.67px;">4</div>
<div class="d" style="left:83.00px;width:80px;text-align:center;top:255.67px;">6</div>
<div class="d" style="left:109.50px;width:80px;text-align:center;top:255.67px;">5</div>
<div class="d" style="left:136.60px;width:80px;text-align:center;top:255.67px;">5</div>
<div class="d" style="left:163.60px;width:80px;text-align:center;top:255.67px;">3</div>
<div class="d" style="left:190.65px;width:80px;text-align:center;top:255.67px;">5</div>
<div class="d" style="left:218.05px;width:80px;text-align:center;top:255.67px;">4</div>
<div class="d" style="left:245.00px;width:80px;text-align:center;top:255.67px;">5</div>
<div class="d" style="left:272.40px;width:80px;text-align:center;top:255.67px;">5</div>
<div class="d" style="left:300.60px;width:80px;text-align:center;top:255.67px;">4</div>
<div class="d" style="left:356.80px;width:80px;text-align:center;top:255.67px;">6</div>
<div class="d" style="left:383.45px;width:80px;text-align:center;top:255.67px;">4</div>
<div class="d" style="left:410.65px;width:80px;text-align:center;top:255.67px;">4</div>
<div class="d" style="left:437.80px;width:80px;text-align:center;top:255.67px;">5</div>
<div class="d" style="left:464.60px;width:80px;text-align:center;top:255.67px;">4</div>
<div class="d" style="left:491.55px;width:80px;text-align:center;top:255.67px;">4</div>
<div class="d" style="left:518.55px;width:80px;text-align:center;top:255.67px;">3</div>
<div class="d" style="left:545.95px;width:80px;text-align:center;top:255.67px;">5</div>
<div class="d" style="left:573.75px;width:80px;text-align:center;top:255.67px;">5</div>
<div class="d" style="left:329.05px;width:80px;text-align:center;top:255.67px;">42</div>
<div class="d" style="left:602.00px;width:80px;text-align:center;top:255.67px;">40</div>
<div class="d" style="left:631.10px;width:80px;text-align:center;top:255.67px;">82</div>
<div class="d" style="left:657.00px;width:80px;text-align:center;top:255.67px;">78</div>
<div class="d" style="left:683.30px;width:80px;text-align:center;top:255.67px;">9</div>
<div class="d" style="left:708.60px;width:80px;text-align:center;top:255.67px;">1</div>
<div class="n" style="left:-62.20px;width:80px;text-align:right;top:275.51px;">9</div>
<div class="t" style="left:23.00px;top:275.28px;transform:scaleX(1.034);transform-origin:left top;">Dan</div>
<div class="d" style="left:56.58px;width:80px;text-align:center;top:275.77px;">11</div>
<div class="d" style="left:83.00px;width:80px;text-align:center;top:275.77px;">7</div>
<div class="d" style="left:109.50px;width:80px;text-align:center;top:275.77px;">5</div>
<div class="d" style="left:136.60px;width:80px;text-align:center;top:275.77px;">6</div>
<div class="d" style="left:163.60px;width:80px;text-align:center;top:275.77px;">4</div>
<div class="d" style="left:190.65px;width:80px;text-align:center;top:275.77px;">5</div>
<div class="d" style="left:218.05px;width:80px;text-align:center;top:275.77px;">4</div>
<div class="d" style="left:245.00px;width:80px;text-align:center;top:275.77px;">6</div>
<div class="d" style="left:272.40px;width:80px;text-align:center;top:275.77px;">4</div>
<div class="d" style="left:300.60px;width:80px;text-align:center;top:275.77px;">5</div>
<div class="d" style="left:356.80px;width:80px;text-align:center;top:275.77px;">7</div>
<div class="d" style="left:383.45px;width:80px;text-align:center;top:275.77px;">3</div>
<div class="d" style="left:410.65px;width:80px;text-align:center;top:275.77px;">6</div>
<div class="d" style="left:437.80px;width:80px;text-align:center;top:275.77px;">5</div>
<div class="d" style="left:464.60px;width:80px;text-align:center;top:275.77px;">6</div>
<div class="d" style="left:491.55px;width:80px;text-align:center;top:275.77px;">4</div>
<div class="d" style="left:518.55px;width:80px;text-align:center;top:275.77px;">6</div>
<div class="d" style="left:545.95px;width:80px;text-align:center;top:275.77px;">5</div>
<div class="d" style="left:573.75px;width:80px;text-align:center;top:275.77px;">3</div>
<div class="d" style="left:329.05px;width:80px;text-align:center;top:275.77px;">46</div>
<div class="d" style="left:602.00px;width:80px;text-align:center;top:275.77px;">45</div>
<div class="d" style="left:631.10px;width:80px;text-align:center;top:275.77px;">91</div>
<div class="d" style="left:657.00px;width:80px;text-align:center;top:275.77px;">80</div>
<div class="d" style="left:683.30px;width:80px;text-align:center;top:275.77px;">11</div>
<div class="d" style="left:708.60px;width:80px;text-align:center;top:275.77px;">1</div>
<div class="n" style="left:-62.20px;width:80px;text-align:right;top:295.51px;">10</div>
<div class="t" style="left:23.00px;top:295.28px;transform:scaleX(1.041);transform-origin:left top;">Håkan</div>
<div class="d" style="left:56.58px;width:80px;text-align:center;top:295.77px;">14</div>
<div class="d" style="left:83.00px;width:80px;text-align:center;top:295.77px;">5</div>
<div class="d" style="left:109.50px;width:80px;text-align:center;top:295.77px;">6</div>
<div class="d" style="left:136.60px;width:80px;text-align:center;top:295.77px;">5</div>
<div class="d" style="left:163.60px;width:80px;text-align:center;top:295.77px;">3</div>
<div class="d" style="left:190.65px;width:80px;text-align:center;top:295.77px;">6</div>
<div class="d" style="left:218.05px;width:80px;text-align:center;top:295.77px;">4</div>
<div class="d" style="left:245.00px;width:80px;text-align:center;top:295.77px;">5</div>
<div class="d" style="left:272.40px;width:80px;text-align:center;top:295.77px;">6</div>
<div class="d" style="left:300.60px;width:80px;text-align:center;top:295.77px;">4</div>
<div class="d" style="left:356.80px;width:80px;text-align:center;top:295.77px;">6</div>
<div class="d" style="left:383.45px;width:80px;text-align:center;top:295.77px;">4</div>
<div class="d" style="left:410.65px;width:80px;text-align:center;top:295.77px;">9</div>
<div class="d" style="left:437.80px;width:80px;text-align:center;top:295.77px;">7</div>
<div class="d" style="left:464.60px;width:80px;text-align:center;top:295.77px;">6</div>
<div class="d" style="left:491.55px;width:80px;text-align:center;top:295.77px;">5</div>
<div class="d" style="left:518.55px;width:80px;text-align:center;top:295.77px;">4</div>
<div class="d" style="left:545.95px;width:80px;text-align:center;top:295.77px;">9</div>
<div class="d" style="left:573.75px;width:80px;text-align:center;top:295.77px;">3</div>
<div class="d" style="left:329.05px;width:80px;text-align:center;top:295.77px;">44</div>
<div class="d" style="left:602.00px;width:80px;text-align:center;top:295.77px;">53</div>
<div class="d" style="left:631.10px;width:80px;text-align:center;top:295.77px;">97</div>
<div class="d" style="left:657.00px;width:80px;text-align:center;top:295.77px;">83</div>
<div class="d" style="left:683.30px;width:80px;text-align:center;top:295.77px;">14</div>
<div class="d" style="left:708.60px;width:80px;text-align:center;top:295.77px;">1</div>
<div class="n" style="left:-62.20px;width:80px;text-align:right;top:315.61px;">11</div>
<div class="t" style="left:23.00px;top:315.38px;transform:scaleX(1.067);transform-origin:left top;">Ingemar</div>
<div class="d" style="left:56.58px;width:80px;text-align:center;top:315.87px;">11</div>
<div class="d" style="left:83.00px;width:80px;text-align:center;top:315.87px;">6</div>
<div class="d" style="left:109.50px;width:80px;text-align:center;top:315.87px;">5</div>
<div class="d" style="left:136.60px;width:80px;text-align:center;top:315.87px;">7</div>
<div class="d" style="left:163.60px;width:80px;text-align:center;top:315.87px;">3</div>
<div class="d" style="left:190.65px;width:80px;text-align:center;top:315.87px;">7</div>
<div class="d" style="left:218.05px;width:80px;text-align:center;top:315.87px;">5</div>
<div class="d" style="left:245.00px;width:80px;text-align:center;top:315.87px;">5</div>
<div class="d" style="left:272.40px;width:80px;text-align:center;top:315.87px;">6</div>
<div class="d" style="left:300.60px;width:80px;text-align:center;top:315.87px;">4</div>
<div class="d" style="left:356.80px;width:80px;text-align:center;top:315.87px;">7</div>
<div class="d" style="left:383.45px;width:80px;text-align:center;top:315.87px;">4</div>
<div class="d" style="left:410.65px;width:80px;text-align:center;top:315.87px;">9</div>
<div class="d" style="left:437.80px;width:80px;text-align:center;top:315.87px;">6</div>
<div class="d" style="left:464.60px;width:80px;text-align:center;top:315.87px;">5</div>
<div class="d" style="left:491.55px;width:80px;text-align:center;top:315.87px;">4</div>
<div class="d" style="left:518.55px;width:80px;text-align:center;top:315.87px;">4</div>
<div class="d" style="left:545.95px;width:80px;text-align:center;top:315.87px;">5</div>
<div class="d" style="left:573.75px;width:80px;text-align:center;top:315.87px;">3</div>
<div class="d" style="left:329.05px;width:80px;text-align:center;top:315.87px;">48</div>
<div class="d" style="left:602.00px;width:80px;text-align:center;top:315.87px;">47</div>
<div class="d" style="left:631.10px;width:80px;text-align:center;top:315.87px;">95</div>
<div class="d" style="left:657.00px;width:80px;text-align:center;top:315.87px;">84</div>
<div class="d" style="left:683.30px;width:80px;text-align:center;top:315.87px;">15</div>
<div class="d" style="left:708.60px;width:80px;text-align:center;top:315.87px;">1</div>
<div class="n" style="left:-62.20px;width:80px;text-align:right;top:335.61px;">12</div>
<div class="t" style="left:23.00px;top:335.38px;transform:scaleX(1.035);transform-origin:left top;">Stefan A</div>
<div class="d" style="left:56.58px;width:80px;text-align:center;top:335.87px;">16</div>
<div class="d" style="left:83.00px;width:80px;text-align:center;top:335.87px;">6</div>
<div class="d" style="left:109.50px;width:80px;text-align:center;top:335.87px;">6</div>
<div class="d" style="left:136.60px;width:80px;text-align:center;top:335.87px;">9</div>
<div class="d" style="left:163.60px;width:80px;text-align:center;top:335.87px;">3</div>
<div class="d" style="left:190.65px;width:80px;text-align:center;top:335.87px;">6</div>
<div class="d" style="left:218.05px;width:80px;text-align:center;top:335.87px;">5</div>
<div class="d" style="left:245.00px;width:80px;text-align:center;top:335.87px;">6</div>
<div class="d" style="left:272.40px;width:80px;text-align:center;top:335.87px;">5</div>
<div class="d" style="left:300.60px;width:80px;text-align:center;top:335.87px;">4</div>
<div class="d" style="left:356.80px;width:80px;text-align:center;top:335.87px;">6</div>
<div class="d" style="left:383.45px;width:80px;text-align:center;top:335.87px;">3</div>
<div class="d" style="left:410.65px;width:80px;text-align:center;top:335.87px;">4</div>
<div class="d" style="left:437.80px;width:80px;text-align:center;top:335.87px;">8</div>
<div class="d" style="left:464.60px;width:80px;text-align:center;top:335.87px;">7</div>
<div class="d" style="left:491.55px;width:80px;text-align:center;top:335.87px;">7</div>
<div class="d" style="left:518.55px;width:80px;text-align:center;top:335.87px;">5</div>
<div class="d" style="left:545.95px;width:80px;text-align:center;top:335.87px;">7</div>
<div class="d" style="left:573.75px;width:80px;text-align:center;top:335.87px;">5</div>
<div class="d" style="left:329.05px;width:80px;text-align:center;top:335.87px;">50</div>
<div class="d" style="left:602.00px;width:80px;text-align:center;top:335.87px;">52</div>
<div class="d" style="left:631.10px;width:80px;text-align:center;top:335.87px;">102</div>
<div class="d" style="left:657.00px;width:80px;text-align:center;top:335.87px;">86</div>
<div class="d" style="left:683.30px;width:80px;text-align:center;top:335.87px;">17</div>
<div class="d" style="left:708.60px;width:80px;text-align:center;top:335.87px;">1</div>
<div class="n" style="left:-62.20px;width:80px;text-align:right;top:355.31px;">13</div>
<div class="t" style="left:23.00px;top:355.08px;transform:scaleX(1.011);transform-origin:left top;">Dick</div>
<div class="d" style="left:56.58px;width:80px;text-align:center;top:355.57px;">12</div>
<div class="d" style="left:83.00px;width:80px;text-align:center;top:355.57px;">8</div>
<div class="d" style="left:109.50px;width:80px;text-align:center;top:355.57px;">9</div>
<div class="d" style="left:136.60px;width:80px;text-align:center;top:355.57px;">5</div>
<div class="d" style="left:163.60px;width:80px;text-align:center;top:355.57px;">4</div>
<div class="d" style="left:190.65px;width:80px;text-align:center;top:355.57px;">8</div>
<div class="d" style="left:218.05px;width:80px;text-align:center;top:355.57px;">4</div>
<div class="d" style="left:245.00px;width:80px;text-align:center;top:355.57px;">5</div>
<div class="d" style="left:272.40px;width:80px;text-align:center;top:355.57px;">4</div>
<div class="d" style="left:300.60px;width:80px;text-align:center;top:355.57px;">5</div>
<div class="d" style="left:356.80px;width:80px;text-align:center;top:355.57px;">6</div>
<div class="d" style="left:383.45px;width:80px;text-align:center;top:355.57px;">3</div>
<div class="d" style="left:410.65px;width:80px;text-align:center;top:355.57px;">6</div>
<div class="d" style="left:437.80px;width:80px;text-align:center;top:355.57px;">5</div>
<div class="d" style="left:464.60px;width:80px;text-align:center;top:355.57px;">6</div>
<div class="d" style="left:491.55px;width:80px;text-align:center;top:355.57px;">5</div>
<div class="d" style="left:518.55px;width:80px;text-align:center;top:355.57px;">3</div>
<div class="d" style="left:545.95px;width:80px;text-align:center;top:355.57px;">5</div>
<div class="d" style="left:573.75px;width:80px;text-align:center;top:355.57px;">8</div>
<div class="d" style="left:329.05px;width:80px;text-align:center;top:355.57px;">52</div>
<div class="d" style="left:602.00px;width:80px;text-align:center;top:355.57px;">47</div>
<div class="d" style="left:631.10px;width:80px;text-align:center;top:355.57px;">99</div>
<div class="d" style="left:657.00px;width:80px;text-align:center;top:355.57px;">87</div>
<div class="d" style="left:683.30px;width:80px;text-align:center;top:355.57px;">18</div>
<div class="d" style="left:708.60px;width:80px;text-align:center;top:355.57px;">1</div>
<div class="d f" style="left:56.58px;width:80px;text-align:center;top:374.47px;">8,9</div>
<div class="d f" style="left:83.00px;width:80px;text-align:center;top:374.47px;">0,64</div>
<div class="d f" style="left:109.50px;width:80px;text-align:center;top:374.47px;">1,29</div>
<div class="d f" style="left:136.60px;width:80px;text-align:center;top:374.47px;">1,21</div>
<div class="d f" style="left:163.60px;width:80px;text-align:center;top:374.47px;">0,07</div>
<div class="d f" style="left:190.65px;width:80px;text-align:center;top:374.47px;">1,29</div>
<div class="d f" style="left:218.05px;width:80px;text-align:center;top:374.47px;">0,6</div>
<div class="d f" style="left:245.00px;width:80px;text-align:center;top:374.47px;">0,50</div>
<div class="d f" style="left:272.40px;width:80px;text-align:center;top:374.47px;">0,43</div>
<div class="d f" style="left:300.60px;width:80px;text-align:center;top:374.47px;">0,50</div>
<div class="d f" style="left:356.80px;width:80px;text-align:center;top:374.47px;">0,57</div>
<div class="d f" style="left:383.45px;width:80px;text-align:center;top:374.47px;">0,43</div>
<div class="d f" style="left:410.65px;width:80px;text-align:center;top:374.47px;">0,86</div>
<div class="d f" style="left:437.80px;width:80px;text-align:center;top:374.47px;">0,50</div>
<div class="d f" style="left:464.60px;width:80px;text-align:center;top:374.47px;">1,07</div>
<div class="d f" style="left:491.55px;width:80px;text-align:center;top:374.47px;">0,64</div>
<div class="d f" style="left:518.55px;width:80px;text-align:center;top:374.47px;">0,64</div>
<div class="d f" style="left:545.95px;width:80px;text-align:center;top:374.47px;">0,79</div>
<div class="d f" style="left:573.75px;width:80px;text-align:center;top:374.47px;">0,57</div>
<div class="d f" style="left:329.05px;width:80px;text-align:center;top:374.47px;">6,5</div>
<div class="d f" style="left:602.00px;width:80px;text-align:center;top:374.47px;">6,1</div>
<div class="d f" style="left:631.10px;width:80px;text-align:center;top:374.47px;">12,6</div>
<div class="d f" style="left:657.00px;width:80px;text-align:center;top:374.47px;">3,7</div>
<div class="l" style="left:139.60px;top:10.60px;transform:scaleX(0.897);transform-origin:left top;">eagle</div>
<div class="l" style="left:193.60px;top:10.60px;transform:scaleX(0.905);transform-origin:left top;">birdie</div>
<div class="l" style="left:247.60px;top:10.60px;transform:scaleX(0.911);transform-origin:left top;">par</div>
<div class="l" style="left:301.70px;top:10.60px;transform:scaleX(0.925);transform-origin:left top;">bogey</div>
<div class="l" style="left:357.40px;top:10.60px;transform:scaleX(0.934);transform-origin:left top;">5öpar</div>
<div class="l" style="left:440.60px;top:10.60px;transform:scaleX(0.956);transform-origin:left top;">bäst ut, in och totalt brutto</div>
<div class="m" style="left:114.20px;top:399.08px;transform:scaleX(0.920);transform-origin:left top;">lättaste hålet (snitt över par) på resp 9 hål</div>
<div class="m" style="left:114.20px;top:421.98px;transform:scaleX(0.905);transform-origin:left top;">svåraste hålet (snitt över par)&nbsp; på resp 9 hål</div>
</body></html>
